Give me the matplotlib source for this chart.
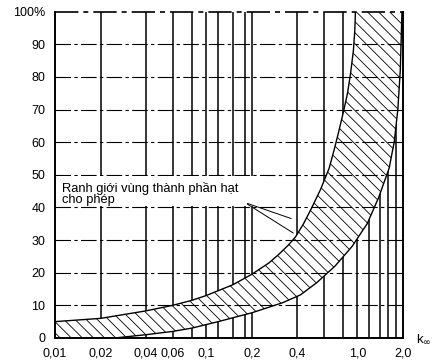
import numpy as np
import matplotlib.pyplot as plt
from matplotlib.patches import Rectangle

plt.rcParams['font.family'] = ['Liberation Sans', 'DejaVu Sans']
plt.rcParams['hatch.linewidth'] = 0.6

# x ticks (log scale) and their labels
x_ticks = [0.01, 0.02, 0.04, 0.06, 0.1, 0.2, 0.4, 1.0, 2.0]
x_labels = ['0,01', '0,02', '0,04', '0,06', '0,1', '0,2', '0,4', '1,0', '2,0']
y_ticks = [0, 10, 20, 30, 40, 50, 60, 70, 80, 90, 100]
y_labels = ['0', '10', '20', '30', '40', '50', '60', '70', '80', '90', '100%']

# vertical grid lines of the nomogram
grid_x = [0.02, 0.04, 0.06, 0.08, 0.1, 0.12, 0.15, 0.18, 0.2,
          0.4, 0.6, 0.8, 1.0, 1.2, 1.4, 1.6, 1.8]
grid_y = [10, 20, 30, 40, 50, 60, 70, 80, 90]

# upper (left) boundary of the allowed zone
upper_x = [0.01, 0.02, 0.04, 0.06, 0.08, 0.1, 0.15, 0.2, 0.26, 0.3, 0.35,
           0.39, 0.44, 0.5, 0.57, 0.65, 0.7, 0.75, 0.81, 0.86, 0.9, 0.94,
           0.96, 0.97]
upper_y = [5, 6, 8.3, 10, 11.5, 13, 16.3, 19.5, 23, 25.5, 28.5,
           31, 35, 40, 45.5, 52, 57.5, 63, 69.5, 75, 81, 88,
           94, 100]

# lower (right) boundary of the allowed zone
lower_x = [0.01, 0.025, 0.04, 0.06, 0.08, 0.12, 0.2, 0.32, 0.42, 0.54,
           0.71, 0.92, 1.16, 1.38, 1.62, 1.75, 1.85, 1.92, 1.97]
lower_y = [0, 0, 1, 2, 3, 5, 7.7, 10.8, 13.2, 17,
           22, 28, 35, 43, 52, 60, 70, 82, 100]

fig = plt.figure(figsize=(4.38, 3.63), dpi=100)
ax = fig.add_axes([0.1256, 0.069, 0.7944, 0.899])
ax.set_xscale('log')
ax.set_xlim(0.01, 2.0)
ax.set_ylim(0, 100)

for v in grid_x:
    ax.axvline(v, color='black', lw=1.1, zorder=1)
for h in grid_y:
    ax.axhline(h, color='black', lw=0.8, ls=(0, (14, 3, 3, 3)), zorder=3)
ax.axhline(100, color='black', lw=1.2, ls=(0, (14, 3, 3, 3)), clip_on=False, zorder=3)

# hatched zone
poly_x = list(upper_x) + list(lower_x[::-1])
poly_y = list(upper_y) + list(lower_y[::-1])
ax.fill(poly_x, poly_y, facecolor='white', edgecolor='none', zorder=2)
ax.fill(poly_x, poly_y, facecolor='none', edgecolor='black', hatch='\\\\\\',
        lw=0, zorder=2)
ax.plot(upper_x, upper_y, color='black', lw=1.0, zorder=4)
ax.plot(lower_x, lower_y, color='black', lw=1.0, zorder=4)

# label box
ax.add_patch(Rectangle((0.0101, 40.4), 0.25 - 0.0101, 9.2, facecolor='white',
                       edgecolor='none', zorder=3))
ax.text(0.0112, 47.8, 'Ranh giới vùng thành phần hạt\ncho phép', fontsize=9.3,
        va='top', ha='left', linespacing=0.9, zorder=5)
ax.annotate('', xy=(0.38, 36.3), xytext=(0.18, 41.5),
            arrowprops=dict(arrowstyle='-', color='black', lw=0.7), zorder=5)
ax.annotate('', xy=(0.39, 31.7), xytext=(0.18, 41.5),
            arrowprops=dict(arrowstyle='-', color='black', lw=0.7), zorder=5)

ax.set_xticks(x_ticks)
ax.set_xticklabels(x_labels)
ax.xaxis.set_minor_locator(plt.NullLocator())
ax.set_yticks(y_ticks)
ax.set_yticklabels(y_labels)
ax.tick_params(length=0, labelsize=9, pad=7)

ax.spines['top'].set_visible(False)
for s in ['left', 'bottom', 'right']:
    ax.spines[s].set_linewidth(1.4)

ax.text(1.06, -0.005, r'k$_{\infty}$', transform=ax.transAxes, fontsize=9.5,
        ha='center', va='center')

fig.savefig('out.png', dpi=100)
